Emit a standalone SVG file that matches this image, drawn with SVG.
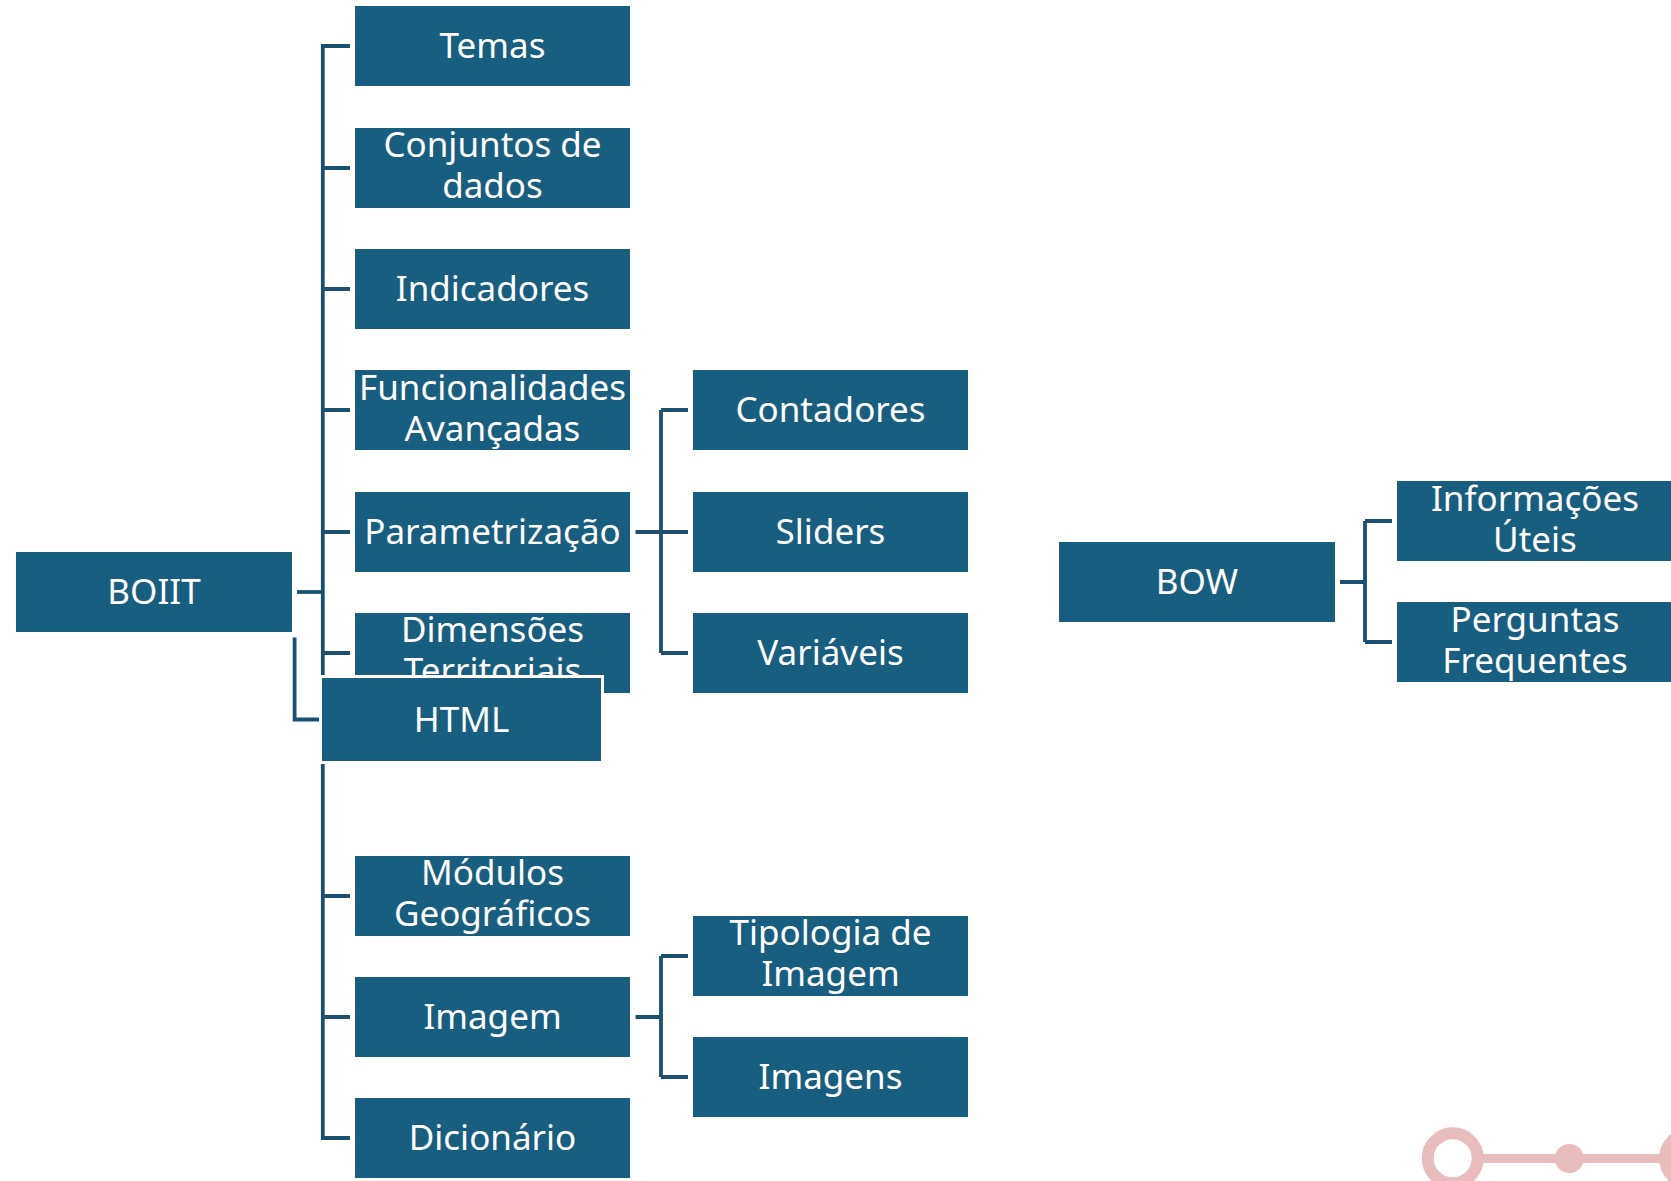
<svg xmlns="http://www.w3.org/2000/svg" width="1671" height="1181" viewBox="0 0 1671 1181">
<style>
.box{fill:#185E80;stroke:#ffffff;stroke-width:2}
.lbl{font-family:"Noto Sans","Liberation Sans",sans-serif;font-size:35px;fill:#ffffff;text-anchor:middle}
.ln{fill:none;stroke:#1B5070;stroke-width:3.8}
.deco{fill:none;stroke:#E9BDBE}
</style>
<rect width="1671" height="1181" fill="#ffffff"/>
<g id="connectors">
<path class="ln" d="M322.8 46 V1138"/>
<path class="ln" d="M321 46 H350 M321 168 H350 M321 289 H350 M321 410 H350 M321 532 H350 M321 653 H350 M321 896 H350 M321 1017 H350 M321 1138 H350"/>
<path class="ln" d="M297 592 H323"/>
<path class="ln" d="M294.6 637.5 V719.5 H321"/>
<path class="ln" d="M635.5 532 H688 M661 410 V653 M661 410 H688 M661 653 H688"/>
<path class="ln" d="M635.5 1017 H661 M661 956 V1077 M661 956 H688 M661 1077 H688"/>
<path class="ln" d="M1340 582 H1365 M1365 521 V642 M1365 521 H1392 M1365 642 H1392"/>
</g>
<g id="n-boiit"><rect class="box" x="15" y="551" width="278" height="82"/><text class="lbl" x="154" y="603.5">BOIIT</text></g>
<g id="n-temas"><rect class="box" x="354" y="5" width="277" height="82"/><text class="lbl" x="492.5" y="57.5">Temas</text></g>
<g id="n-conjuntos"><rect class="box" x="354" y="127" width="277" height="82"/><text class="lbl" x="492.5" y="157">Conjuntos de</text><text class="lbl" x="492.5" y="198">dados</text></g>
<g id="n-indicadores"><rect class="box" x="354" y="248" width="277" height="82"/><text class="lbl" x="492.5" y="300.5">Indicadores</text></g>
<g id="n-funcionalidades"><rect class="box" x="354" y="369" width="277" height="82"/><text class="lbl" x="492.5" y="399.5">Funcionalidades</text><text class="lbl" x="492.5" y="440.5">Avançadas</text></g>
<g id="n-parametrizacao"><rect class="box" x="354" y="491" width="277" height="82"/><text class="lbl" x="492.5" y="543.5">Parametrização</text></g>
<g id="n-dimensoes"><rect class="box" x="354" y="612" width="277" height="82"/><text class="lbl" x="492.5" y="642">Dimensões</text><text class="lbl" x="492.5" y="683">Territoriais</text></g>
<g id="n-html"><rect class="box" x="320.5" y="676.5" width="282" height="86" style="stroke-width:3"/><text class="lbl" x="461.5" y="731.5">HTML</text></g>
<g id="n-modulos"><rect class="box" x="354" y="855" width="277" height="82"/><text class="lbl" x="492.5" y="885">Módulos</text><text class="lbl" x="492.5" y="926">Geográficos</text></g>
<g id="n-imagem"><rect class="box" x="354" y="976" width="277" height="82"/><text class="lbl" x="492.5" y="1028.5">Imagem</text></g>
<g id="n-dicionario"><rect class="box" x="354" y="1097" width="277" height="82"/><text class="lbl" x="492.5" y="1149.5">Dicionário</text></g>
<g id="n-contadores"><rect class="box" x="692" y="369" width="277" height="82"/><text class="lbl" x="830.5" y="421.5">Contadores</text></g>
<g id="n-sliders"><rect class="box" x="692" y="491" width="277" height="82"/><text class="lbl" x="830.5" y="543.5">Sliders</text></g>
<g id="n-variaveis"><rect class="box" x="692" y="612" width="277" height="82"/><text class="lbl" x="830.5" y="664.5">Variáveis</text></g>
<g id="n-tipologia"><rect class="box" x="692" y="915" width="277" height="82"/><text class="lbl" x="830.5" y="945">Tipologia de</text><text class="lbl" x="830.5" y="986">Imagem</text></g>
<g id="n-imagens"><rect class="box" x="692" y="1036" width="277" height="82"/><text class="lbl" x="830.5" y="1088.5">Imagens</text></g>
<g id="n-bow"><rect class="box" x="1058" y="541" width="278" height="82"/><text class="lbl" x="1197" y="593.5">BOW</text></g>
<g id="n-informacoes"><rect class="box" x="1396" y="480" width="278" height="82"/><text class="lbl" x="1535" y="510.5">Informações</text><text class="lbl" x="1535" y="551.5">Úteis</text></g>
<g id="n-perguntas"><rect class="box" x="1396" y="601" width="278" height="82"/><text class="lbl" x="1535" y="631.5">Perguntas</text><text class="lbl" x="1535" y="672.5">Frequentes</text></g>
<g id="decoration">
<line x1="1478" y1="1158.5" x2="1665" y2="1158.5" stroke="#E9BDBE" stroke-width="9"/>
<circle class="deco" cx="1452.7" cy="1158.3" r="25" stroke-width="12"/>
<circle cx="1569.3" cy="1158.5" r="14.5" fill="#E9BDBE"/>
<circle class="deco" cx="1690" cy="1158.3" r="25" stroke-width="12"/>
</g>
</svg>
